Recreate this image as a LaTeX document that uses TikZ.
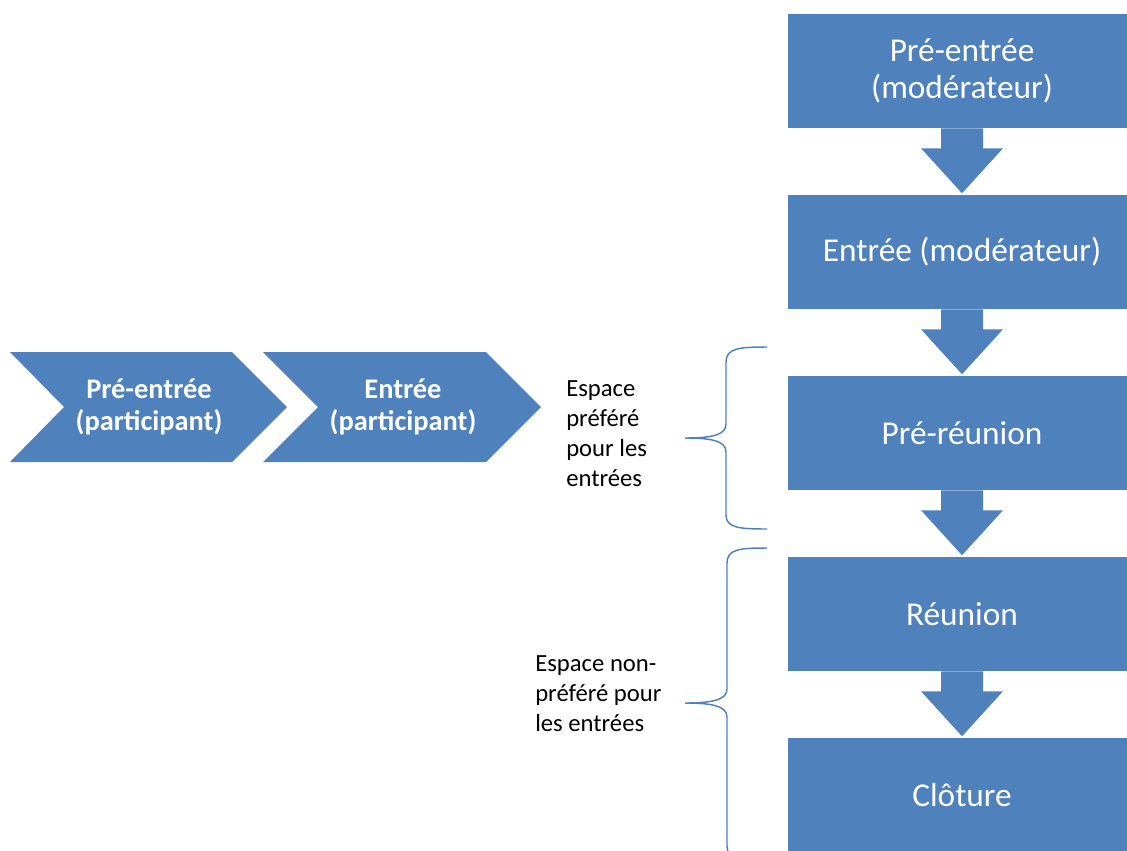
\documentclass[tikz,border=0pt]{standalone}
\usepackage{fontspec}
\setmainfont{Carlito}
\usetikzlibrary{calc}
\definecolor{boxblue}{RGB}{79,129,189}
\tikzset{
  stage/.style={fill=boxblue,text=white,minimum width=261pt,minimum height=85.5pt,
    inner sep=0pt,align=center,font=\fontsize{25}{27.75}\selectfont},
  chevtext/.style={text=white,inner sep=0pt,align=center,
    font=\fontsize{21.3}{23.5}\selectfont\bfseries},
  note/.style={anchor=west,inner sep=0pt,align=left,text=black,
    font=\fontsize{18.5}{22.5}\selectfont},
  bracket/.style={draw=boxblue,line width=1.1pt}
}

\begin{document}
\begin{tikzpicture}[x=0.75pt,y=-0.75pt]
\useasboundingbox (0,0) rectangle (1127,850);
\clip (0,0) rectangle (1127,850);
%% Right column: moderator steps
\node[stage] (preentmod) at (962,71)  {Pré-entrée\\(modérateur)};
\node[stage] (entmod)    at (962,252) {Entrée (modérateur)};
\node[stage] (prereu)    at (962,433) {Pré-réunion};
\node[stage] (reu)       at (962,614) {Réunion};
\node[stage] (clot)      at (962,795) {Clôture};
%% Block arrows between the steps
\fill[boxblue] ($(preentmod.south)+(-21,0)$) -- ++(0,20) -- ++(-20,0) -- ($(preentmod.south)+(0,65)$) -- ($(preentmod.south)+(41,20)$) -- ++(-20,0) -- ++(0,-20) -- cycle;
\fill[boxblue] ($(entmod.south)+(-21,0)$) -- ++(0,20) -- ++(-20,0) -- ($(entmod.south)+(0,65)$) -- ($(entmod.south)+(41,20)$) -- ++(-20,0) -- ++(0,-20) -- cycle;
\fill[boxblue] ($(prereu.south)+(-21,0)$) -- ++(0,20) -- ++(-20,0) -- ($(prereu.south)+(0,65)$) -- ($(prereu.south)+(41,20)$) -- ++(-20,0) -- ++(0,-20) -- cycle;
\fill[boxblue] ($(reu.south)+(-21,0)$) -- ++(0,20) -- ++(-20,0) -- ($(reu.south)+(0,65)$) -- ($(reu.south)+(41,20)$) -- ++(-20,0) -- ++(0,-20) -- cycle;
%% Left row: participant steps
\fill[boxblue] (10,352) -- (232,352) -- (287,407) -- (232,462) -- (10,462) -- (64,407) -- cycle;
\fill[boxblue] (263,352) -- (486,352) -- (541,407) -- (486,462) -- (263,462) -- (318,407) -- cycle;
\node[chevtext] (preentpart) at (149,407) {Pré-entrée\\(participant)};
\node[chevtext] (entpart)    at (403,407) {Entrée\\(participant)};
%% Notes and brackets
\node[note] (pref)    at (566,434) {Espace\\préféré\\pour les\\entrées};
\node[note] (nonpref) at (535,694) {Espace non-\\préféré pour\\les entrées};
\coordinate (preftip)    at (685,438);
\coordinate (nonpreftip) at (685,703);
\draw[bracket] (767,347) .. controls (740,347) and (726,348) .. (726,362) -- (726,424)
  .. controls (726,435) and (712,438) .. (preftip)
  .. controls (712,438) and (726,441) .. (726,452) -- (726,515)
  .. controls (726,528) and (740,529) .. (767,529);
\draw[bracket] (767,548) .. controls (740,548) and (727,549) .. (727,563) -- (727,689)
  .. controls (727,700) and (712,703) .. (nonpreftip)
  .. controls (712,703) and (727,706) .. (727,717) -- (727,846)
  .. controls (727,860) and (740,862) .. (767,862);
\end{tikzpicture}
\end{document}
